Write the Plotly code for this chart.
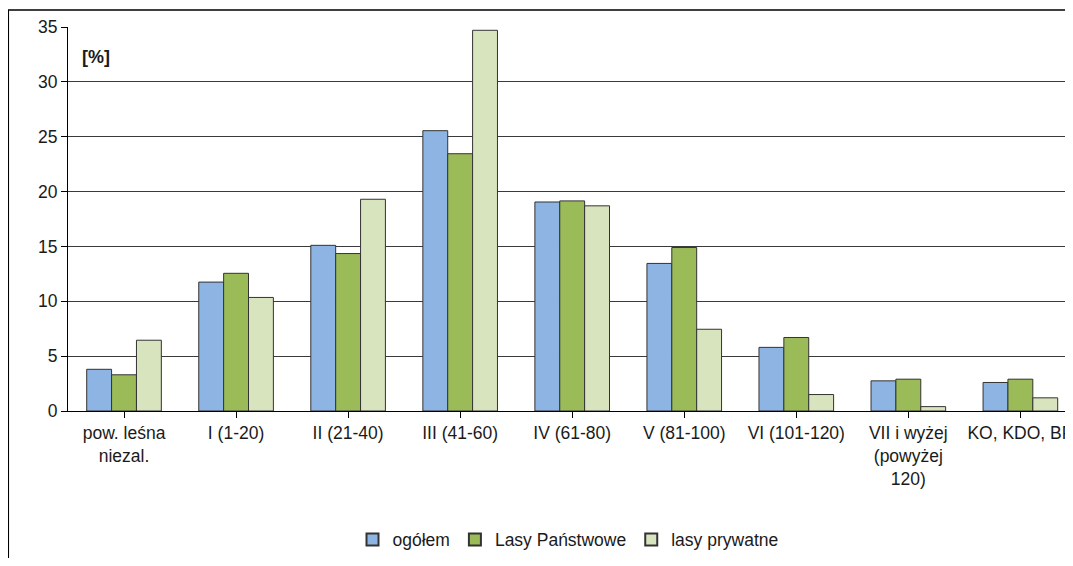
import plotly.graph_objects as go

categories = ["pow. leśna<br>niezal.", "I (1-20)", "II (21-40)", "III (41-60)", "IV (61-80)",
              "V (81-100)", "VI (101-120)", "VII i wyżej<br>(powyżej<br>120)", "KO, KDO, BP"]
ogolem = [3.8, 11.75, 15.1, 25.55, 19.05, 13.45, 5.8, 2.75, 2.6]
lasy_panstwowe = [3.3, 12.55, 14.35, 23.45, 19.15, 14.9, 6.7, 2.9, 2.9]
lasy_prywatne = [6.45, 10.35, 19.3, 34.7, 18.7, 7.45, 1.5, 0.4, 1.2]
y_ticks = [0, 5, 10, 15, 20, 25, 30, 35]

FONT = "Liberation Sans, Arial, sans-serif"
line = dict(color="#333333", width=1)

fig = go.Figure()
fig.add_trace(go.Bar(name="ogółem", x=list(range(9)), y=ogolem,
                     marker=dict(color="#8EB4E3", line=line)))
fig.add_trace(go.Bar(name="Lasy Państwowe", x=list(range(9)), y=lasy_panstwowe,
                     marker=dict(color="#9BBB59", line=line)))
fig.add_trace(go.Bar(name="lasy prywatne", x=list(range(9)), y=lasy_prywatne,
                     marker=dict(color="#D7E4BD", line=line)))

fig.update_layout(
    width=1065, height=550,
    margin=dict(l=60, r=0, t=19, b=146),
    paper_bgcolor="white", plot_bgcolor="white",
    barmode="group", bargap=0.334, bargroupgap=0,
    font=dict(family=FONT, size=17.5, color="#1a1a1a"),
    showlegend=True,
    legend=dict(orientation="h", x=0.5, xanchor="center", y=-0.335, yanchor="middle",
                font=dict(size=17.5), itemsizing="constant", traceorder="normal"),
    xaxis=dict(
        tickmode="array", tickvals=list(range(9)), ticktext=categories,
        range=[-0.5, 8.425], tickangle=0, ticklabeloverflow="allow",
        showline=True, linecolor="black", linewidth=1,
        ticks="outside", ticklen=6, tickcolor="black", tickson="boundaries",
        showgrid=False, zeroline=False,
    ),
    yaxis=dict(
        range=[0, 35], tickvals=y_ticks,
        showline=True, linecolor="black", linewidth=1,
        ticks="outside", ticklen=6, tickcolor="black",
        showgrid=True, gridcolor="#3a3a3a", gridwidth=1, zeroline=False,
    ),
    annotations=[dict(text="<b>[%]</b>", x=0.012, y=0.922, xref="paper", yref="paper",
                      xanchor="left", yanchor="middle", showarrow=False, font=dict(size=18))],
    shapes=[dict(type="rect", xref="paper", yref="paper",
                 x0=-0.0597, x1=1.2, y0=-0.6, y1=1.0442,
                 line=dict(color="black", width=1.5), layer="above")],
)

fig.write_html("out.html")
